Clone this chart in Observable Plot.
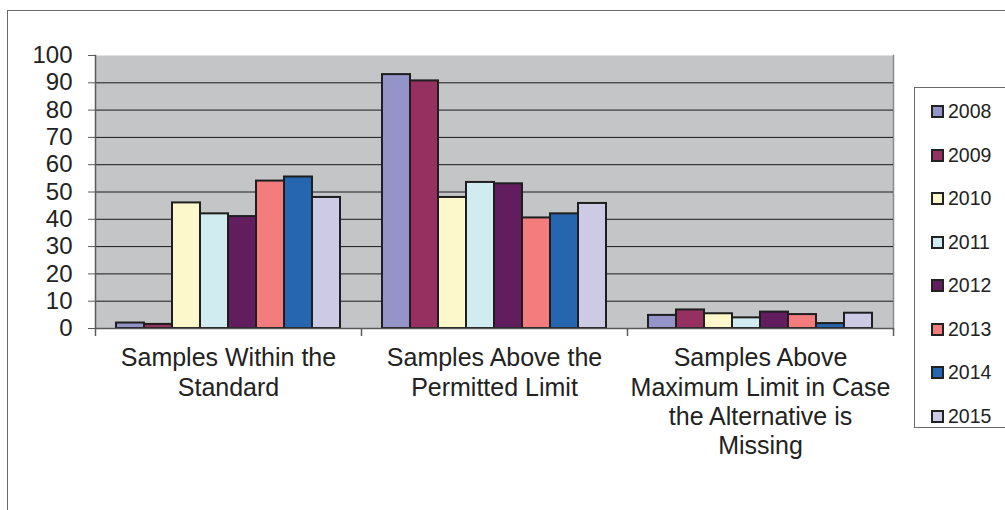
<!DOCTYPE html>
<html>
<head>
<meta charset="utf-8">
<script src="https://cdn.jsdelivr.net/npm/d3@7"></script>
<script src="https://cdn.jsdelivr.net/npm/@observablehq/plot@0.6"></script>
<style>
  html, body { margin: 0; padding: 0; background: #fff; }
  #wrap { position: relative; width: 1005px; height: 510px; overflow: hidden; font-family: "Liberation Sans", Arial, sans-serif; }
  #wrap svg { position: absolute; left: 0; top: 0; }
  #border { position: absolute; left: 7px; top: 10px; width: 1100px; height: 600px; border-top: 1px solid #6a6a6a; border-left: 1px solid #6a6a6a; pointer-events: none; }
  #legend { position: absolute; left: 914px; top: 87px; width: 120px; height: 339px; border: 1px solid #6a6a6a; background: #fff; }
  .item { position: absolute; left: 16px; height: 20px; display: flex; align-items: center; font-size: 19.5px; color: #222; }
  .sw { width: 9px; height: 9px; border: 2px solid #222; margin-right: 4px; }
</style>
</head>
<body>
<div id="wrap"><div id="border"></div></div>
<script>
const categories = [
  "Samples Within the Standard",
  "Samples Above the Permitted Limit",
  "Samples Above Maximum Limit in Case the Alternative is Missing"
];
const categoryLabels = [
  "Samples Within the\nStandard",
  "Samples Above the\nPermitted Limit",
  "Samples Above\nMaximum Limit in Case\nthe Alternative is\nMissing"
];
const years = ["2008", "2009", "2010", "2011", "2012", "2013", "2014", "2015"];
const withinStandard  = [2, 1.5, 46, 42, 41, 54, 55.5, 48];
const abovePermitted  = [93, 90.7, 48, 53.5, 53, 40.5, 42, 45.8];
const aboveMaximum    = [4.8, 6.8, 5.4, 3.9, 6, 5.1, 1.8, 5.6];
const yTicks = [0, 10, 20, 30, 40, 50, 60, 70, 80, 90, 100];
const colors = ["#9494c8", "#953060", "#fcf8cc", "#d0ecf1", "#621d5f", "#f37d7c", "#2666b0", "#cdcae6"];
const categoryBoundaries = d3.range(categories.length + 1);

const series = [withinStandard, abovePermitted, aboveMaximum];
const data = [];
categories.forEach((c, ci) => years.forEach((y, yi) => data.push({category: c, year: y, value: series[ci][yi]})));

const dims = {width: 1005, height: 510, marginLeft: 95, marginRight: 112, marginTop: 55, marginBottom: 182};

// background: plot area fill, gridlines (not faceted, so no seams)
const background = Plot.plot({
  ...dims,
  style: {background: "transparent"},
  x: {domain: [0, categories.length], axis: null, label: null},
  y: {domain: [0, 100], axis: null, label: null},
  marks: [
    Plot.frame({fill: "#c4c5c7"}),
    Plot.frame({anchor: "right", stroke: "#8a8a8a", strokeWidth: 1.5}),
    Plot.gridY(yTicks.filter(t => t > 0 && t < 100), {stroke: "#1a1a1a", strokeOpacity: 1, strokeWidth: 1})
  ]
});

const chart = Plot.plot({
  ...dims,
  style: {fontFamily: "'Liberation Sans', Arial, sans-serif", background: "transparent", color: "#222"},
  fx: {domain: categories, padding: 0, axis: null, label: null},
  x: {domain: years, paddingInner: 0, paddingOuter: 0.75, axis: null, label: null},
  y: {domain: [0, 100], axis: null, label: null},
  color: {domain: years, range: colors},
  marks: [
    Plot.barY(data, {fx: "category", x: "year", y: "value", fill: "year", stroke: "#1e1e1e", strokeWidth: 2}),
    Plot.axisY({ticks: yTicks, tickSize: 7, tickPadding: 16, fontSize: 24, stroke: "#5a5a5a", anchor: "left", label: null}),
    Plot.axisFx({anchor: "bottom", tickSize: 0, tickPadding: 17, fontSize: 25, lineHeight: 1.17, label: null,
      tickFormat: (d) => categoryLabels[categories.indexOf(d)]})
  ]
});

// axis lines and category boundary ticks
const overlay = Plot.plot({
  ...dims,
  style: {background: "transparent"},
  x: {domain: [0, categories.length], axis: null, label: null},
  y: {domain: [0, 100], axis: null, label: null},
  marks: [
    Plot.frame({anchor: "left", stroke: "#5a5a5a", strokeWidth: 1.5}),
    Plot.ruleY([0], {stroke: "#5a5a5a", strokeWidth: 1.5}),
    Plot.axisX({ticks: categoryBoundaries, tickSize: 8, tickFormat: () => "", stroke: "#5a5a5a", strokeWidth: 1.5, label: null})
  ]
});

const wrap = document.getElementById("wrap");
wrap.insertBefore(overlay, wrap.firstChild);
wrap.insertBefore(chart, wrap.firstChild);
wrap.insertBefore(background, wrap.firstChild);

const legend = document.createElement("div");
legend.id = "legend";
years.forEach((y, i) => {
  const it = document.createElement("div");
  it.className = "item";
  it.style.top = (13.5 + i * 43.5) + "px";
  const sw = document.createElement("span");
  sw.className = "sw";
  sw.style.background = colors[i];
  it.appendChild(sw);
  it.appendChild(document.createTextNode(y));
  legend.appendChild(it);
});
wrap.appendChild(legend);
</script>
</body>
</html>
